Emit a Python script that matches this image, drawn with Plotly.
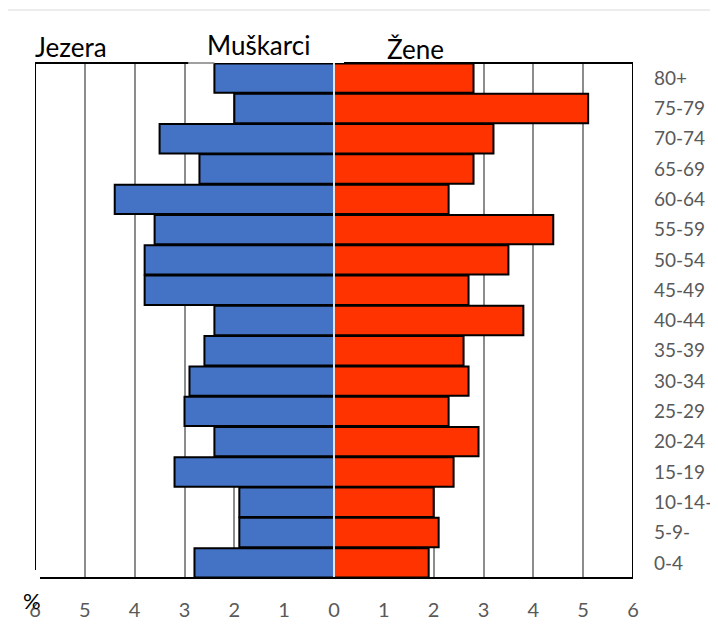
import plotly.graph_objects as go

age_groups = ["0-4", "5-9-", "10-14-", "15-19", "20-24", "25-29", "30-34", "35-39",
              "40-44", "45-49", "50-54", "55-59", "60-64", "65-69", "70-74", "75-79", "80+"]
men = [2.8, 1.9, 1.9, 3.2, 2.4, 3.0, 2.9, 2.6, 2.4, 3.8, 3.8, 3.6, 4.4, 2.7, 3.5, 2.0, 2.4]
women = [1.9, 2.1, 2.0, 2.4, 2.9, 2.3, 2.7, 2.6, 3.8, 2.7, 3.5, 4.4, 2.3, 2.8, 3.2, 5.1, 2.8]
tick_vals = [-6, -5, -4, -3, -2, -1, 0, 1, 2, 3, 4, 5, 6]
tick_text = ["6", "5", "4", "3", "2", "1", "0", "1", "2", "3", "4", "5", "6"]

FONT = "Lato, Calibri, sans-serif"
GRAY = "#595959"
PH = 515.0  # plot height px
PW = 598.0  # plot width px

fig = go.Figure()
fig.add_trace(go.Bar(
    y=age_groups, x=[-v for v in men], orientation="h", name="Muškarci",
    marker=dict(color="#4472C4", line=dict(color="black", width=2)),
    hoverinfo="skip"))
fig.add_trace(go.Bar(
    y=age_groups, x=women, orientation="h", name="Žene",
    marker=dict(color="#FF3300", line=dict(color="black", width=2)),
    hoverinfo="skip"))

shapes = [
    # outer card border
    dict(type="rect", xref="paper", yref="paper", x0=(6 - 35) / PW, x1=(760 - 35) / PW,
         y0=-0.3, y1=1 + (63 - 10) / PH, line=dict(color="#d9d9d9", width=1), layer="below"),
    # zero line
    dict(type="line", xref="x", yref="paper", x0=0, x1=0, y0=0, y1=1,
         line=dict(color="#dfe5f0", width=2), layer="above"),
    # top border segments
    dict(type="line", xref="x", yref="paper", x0=-6, x1=-2.92, y0=1, y1=1,
         line=dict(color="black", width=2), layer="above"),
    dict(type="line", xref="x", yref="paper", x0=-2.92, x1=-2.4, y0=1, y1=1,
         line=dict(color="#808080", width=1.5), layer="above"),
    dict(type="line", xref="x", yref="paper", x0=0.2, x1=6, y0=1, y1=1,
         line=dict(color="black", width=2), layer="above"),
    # right border
    dict(type="line", xref="x", yref="paper", x0=6, x1=6, y0=0, y1=1,
         line=dict(color="black", width=2), layer="above"),
    # left border
    dict(type="line", xref="x", yref="paper", x0=-6, x1=-6, y0=8 / PH, y1=1,
         line=dict(color="black", width=2), layer="above"),
    # bottom border
    dict(type="line", xref="x", yref="paper", x0=-5.9, x1=6, y0=0, y1=0,
         line=dict(color="black", width=2), layer="above"),
]

annotations = [
    dict(text="Jezera", xref="paper", yref="paper", x=-2 / PW, y=1 + (63 - 47) / PH,
         xanchor="left", yanchor="middle", showarrow=False,
         font=dict(family=FONT, size=26, color="black")),
    dict(text="Muškarci", xref="paper", yref="paper", x=(205 - 35) / PW, y=1 + (63 - 45) / PH,
         xanchor="left", yanchor="middle", showarrow=False,
         font=dict(family=FONT, size=26, color="black")),
    dict(text="Žene", xref="paper", yref="paper", x=(385 - 35) / PW, y=1 + (63 - 49) / PH,
         xanchor="left", yanchor="middle", showarrow=False,
         font=dict(family=FONT, size=26, color="black")),
    dict(text="%", xref="paper", yref="paper", x=(32 - 35) / PW, y=-(600 - 578) / PH,
         xanchor="center", yanchor="middle", showarrow=False,
         font=dict(family=FONT, size=22, color="black")),
]

fig.update_layout(
    width=710, height=624,
    margin=dict(l=27, r=85, t=55, b=54, autoexpand=False),
    paper_bgcolor="white", plot_bgcolor="white",
    barmode="relative", bargap=0.03,
    showlegend=False,
    font=dict(family=FONT, color=GRAY, size=17),
    xaxis=dict(range=[-6, 6], tickvals=tick_vals, ticktext=tick_text,
               showgrid=True, gridcolor="#8c8c8c", gridwidth=1.5,
               zeroline=False, showline=False, ticks="", automargin=False,
               ticklabelstandoff=18,
               tickfont=dict(family=FONT, size=20, color=GRAY)),
    yaxis=dict(categoryorder="array", categoryarray=age_groups, side="right",
               showgrid=False, zeroline=False, showline=False, ticks="", automargin=False,
               ticklabelstandoff=20,
               tickfont=dict(family=FONT, size=19, color=GRAY)),
    shapes=shapes, annotations=annotations,
)

fig.write_html("out.html")
